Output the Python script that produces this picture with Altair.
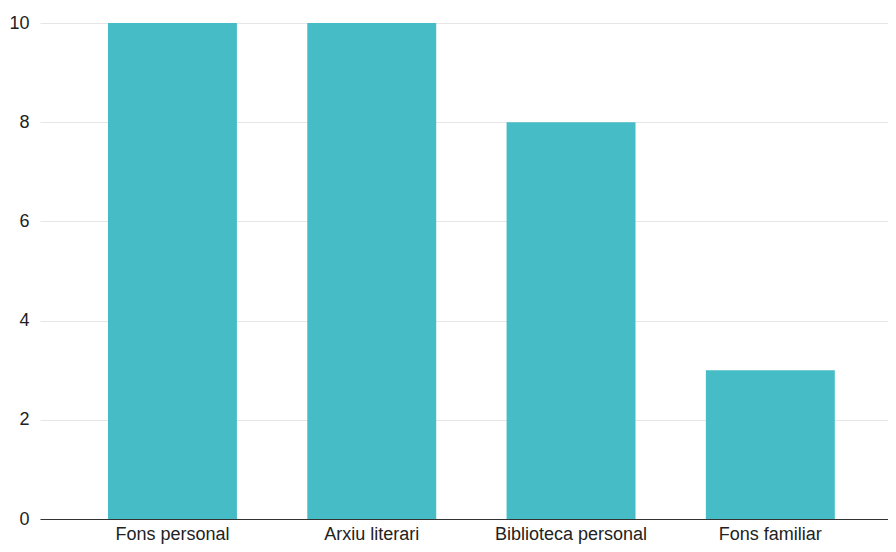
import altair as alt
import pandas as pd

categories = ["Fons personal", "Arxiu literari", "Biblioteca personal", "Fons familiar"]
values = [10, 10, 8, 3]
y_ticks = [0, 2, 4, 6, 8, 10]

df = pd.DataFrame({"category": categories, "value": values})

FONT = "Liberation Sans"

chart = alt.Chart(df).mark_bar(color="#46BDC6").encode(
    x=alt.X(
        "category:N",
        sort=categories,
        title=None,
        scale=alt.Scale(paddingInner=0.353, paddingOuter=0.304, align=0.561),
        axis=alt.Axis(
            labelAngle=0, domainColor="#333333", domainWidth=1, ticks=False,
            labelPadding=6, labelFontSize=18, labelColor="#222222", labelFont=FONT,
            grid=False, zindex=1,
        ),
    ),
    y=alt.Y(
        "value:Q",
        title=None,
        scale=alt.Scale(domain=[0, 10], nice=False),
        axis=alt.Axis(
            values=y_ticks, domain=False, ticks=False, gridColor="#e6e6e6",
            labelPadding=11, labelFontSize=18, labelColor="#222222", labelFont=FONT,
        ),
    ),
).properties(
    width=848,
    height=496,
    autosize=alt.AutoSizeParams(type="none"),
    padding={"left": 32, "top": 15, "right": 0, "bottom": 25},
).configure_view(stroke=None)

chart.save("out.html", embed_options={"renderer": "svg", "actions": False})
